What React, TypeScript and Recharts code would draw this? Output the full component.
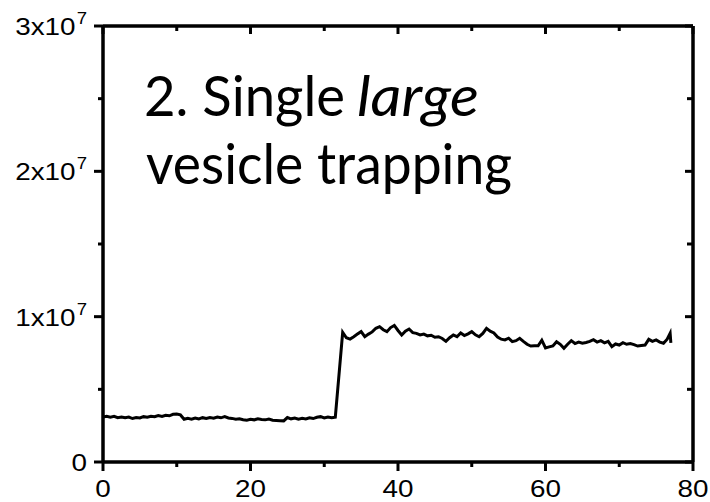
import React from "react";
import { LineChart, Line, XAxis, YAxis } from "recharts";

// time in seconds
const timeS: number[] = [
  0, 0.5, 1, 1.5, 2, 2.5, 3, 3.5, 4, 4.5,
  5, 5.5, 6, 6.5, 7, 7.5, 8, 8.5, 9, 9.5,
  10, 10.5, 11, 11.5, 12, 12.5, 13, 13.5, 14, 14.5,
  15, 15.5, 16, 16.5, 17, 17.5, 18, 18.5, 19, 19.5,
  20, 20.5, 21, 21.5, 22, 22.5, 23, 23.5, 24, 24.5,
  25, 25.5, 26, 26.5, 27, 27.5, 28, 28.5, 29, 29.5,
  30, 30.5, 31, 31.5,
  32.5,
  33, 33.5, 34, 34.5, 35, 35.5, 36, 36.5, 37, 37.5,
  38, 38.5, 39, 39.5, 40, 40.5, 41, 41.5, 42, 42.5,
  43, 43.5, 44, 44.5, 45, 45.5, 46, 46.5, 47, 47.5,
  48, 48.5, 49, 49.5, 50, 50.5, 51, 51.5, 52, 52.5,
  53, 53.5, 54, 54.5, 55, 55.5, 56, 56.5, 57, 57.5,
  58, 58.5, 59, 59.5, 60, 60.5, 61, 61.5, 62, 62.5,
  63, 63.5, 64, 64.5, 65, 65.5, 66, 66.5, 67, 67.5,
  68, 68.5, 69, 69.5, 70, 70.5, 71, 71.5, 72, 72.5,
  73, 73.5, 74, 74.5, 75, 75.5, 76, 76.5,
  76.9, 77,
];

// intensity in units of 10^6
const intensityE6: number[] = [
  3.10, 3.15, 3.08, 3.14, 3.05, 3.10, 3.04, 3.09, 2.99, 3.06,
  3.03, 3.12, 3.08, 3.15, 3.11, 3.19, 3.13, 3.21, 3.18, 3.28,
  3.30, 3.24, 2.94, 3.00, 2.95, 3.03, 2.97, 3.05, 2.99, 3.06,
  3.02, 3.10, 3.04, 3.12, 3.03, 3.00, 2.95, 2.98, 2.91, 2.88,
  2.94, 2.90, 2.97, 2.93, 2.90, 2.95, 2.88, 2.86, 2.84, 2.83,
  3.06, 2.97, 3.02, 2.94, 3.01, 2.96, 3.04, 2.99, 3.08, 3.12,
  3.03, 3.09, 3.05, 3.08,
  8.92,
  8.55, 8.46, 8.62, 8.80, 8.97, 8.62, 8.80, 8.95, 9.20, 9.31,
  9.10, 8.97, 9.25, 9.40, 9.05, 8.74, 9.00, 9.15, 8.90, 8.85,
  8.74, 8.80, 8.68, 8.72, 8.58, 8.62, 8.50, 8.30, 8.55, 8.74,
  8.62, 8.88, 8.70, 8.82, 8.97, 8.75, 8.62, 8.85, 9.20, 9.00,
  8.88, 8.60, 8.45, 8.40, 8.52, 8.28, 8.35, 8.51, 8.30, 8.10,
  7.98, 8.00, 8.00, 8.38, 7.85, 7.92, 7.98, 8.28, 8.10, 7.82,
  8.10, 8.35, 8.15, 8.25, 8.17, 8.22, 8.30, 8.42, 8.25, 8.35,
  8.20, 8.30, 7.94, 8.12, 8.05, 8.21, 8.10, 8.15, 8.08, 7.98,
  8.02, 8.05, 8.44, 8.30, 8.40, 8.25, 8.17, 8.45,
  8.86, 8.20,
];

const xTicks: number[] = [0, 10, 20, 30, 40, 50, 60, 70, 80];
const xMajor: number[] = [0, 20, 40, 60, 80];
const yTicks: number[] = [0, 5, 10, 15, 20, 25, 30];
const yMajorLabels: Record<number, [string, string]> = {
  0: ["0", ""],
  10: ["1x10", "7"],
  20: ["2x10", "7"],
  30: ["3x10", "7"],
};
const titleLine1 = "2. Single";
const titleItalic = "large";
const titleLine2 = "vesicle trapping";

const data = timeS.map((t, i) => ({ t, v: intensityE6[i] }));

const TICK_FONT = "'Liberation Sans', Arial, sans-serif";
const TITLE_FONT = "Lato, 'Open Sans', sans-serif";
const STROKE = "#000";
const SX = 1.16;
const TITLE_SY = 1.04;
const L1 = 116;
const L2 = 184;

const BottomTick = (props: any) => {
  const { x, y, payload } = props;
  const major = xMajor.includes(payload.value);
  return (
    <g>
      <line x1={x} y1={y} x2={x} y2={y + (major ? 9 : 5)} stroke={STROKE} strokeWidth={3} />
      {major && (
        <text
          transform={`translate(${x},${y + 35}) scale(${SX},1)`}
          x={0}
          y={0}
          textAnchor="middle"
          fontFamily={TICK_FONT}
          fontSize={24}
          fill="#000"
        >
          {payload.value}
        </text>
      )}
    </g>
  );
};

const TopTick = (props: any) => {
  const { x, y, payload } = props;
  const major = xMajor.includes(payload.value);
  return <line x1={x} y1={y} x2={x} y2={y + (major ? 8 : 5)} stroke={STROKE} strokeWidth={3} />;
};

const LeftTick = (props: any) => {
  const { x, y, payload } = props;
  const lab = yMajorLabels[payload.value];
  const major = !!lab;
  return (
    <g>
      <line x1={x} y1={y} x2={x - (major ? 9 : 5)} y2={y} stroke={STROKE} strokeWidth={3} />
      {major && (
        <text
          transform={`translate(${x - 16},${y + 9}) scale(${SX},1)`}
          x={0}
          y={0}
          textAnchor="end"
          fontFamily={TICK_FONT}
          fontSize={24}
          fill="#000"
        >
          {lab[0]}
          {lab[1] && (
            <tspan fontSize={16} dy={-11} dx={1}>
              {lab[1]}
            </tspan>
          )}
        </text>
      )}
    </g>
  );
};

const RightTick = (props: any) => {
  const { x, y, payload } = props;
  const major = !!yMajorLabels[payload.value];
  return <line x1={x} y1={y} x2={x - (major ? 8 : 6)} y2={y} stroke={STROKE} strokeWidth={3} />;
};

export default function App() {
  return (
    <div style={{ position: "absolute", left: 0, top: 0, width: 710, height: 502, background: "#fff" }}>
      <LineChart
        width={710}
        height={502}
        data={data}
        margin={{ top: 25, right: 16, bottom: 0, left: 13 }}
      >
        <XAxis
          xAxisId="bottom"
          dataKey="t"
          type="number"
          domain={[0, 80]}
          ticks={xTicks}
          orientation="bottom"
          height={40}
          tickSize={0}
          tickMargin={0}
          tickLine={false}
          axisLine={{ stroke: STROKE, strokeWidth: 3.5 }}
          tick={<BottomTick />}
          interval={0}
          allowDataOverflow
        />
        <XAxis
          xAxisId="top"
          dataKey="t"
          type="number"
          domain={[0, 80]}
          ticks={xTicks}
          orientation="top"
          height={1}
          tickSize={0}
          tickMargin={0}
          tickLine={false}
          axisLine={{ stroke: STROKE, strokeWidth: 3.5 }}
          tick={<TopTick />}
          interval={0}
          allowDataOverflow
        />
        <YAxis
          yAxisId="left"
          type="number"
          domain={[0, 30]}
          ticks={yTicks}
          orientation="left"
          width={90}
          tickSize={0}
          tickMargin={0}
          tickLine={false}
          axisLine={{ stroke: STROKE, strokeWidth: 3.5 }}
          tick={<LeftTick />}
          interval={0}
          allowDataOverflow
        />
        <YAxis
          yAxisId="right"
          type="number"
          domain={[0, 30]}
          ticks={yTicks}
          orientation="right"
          width={1}
          tickSize={0}
          tickMargin={0}
          tickLine={false}
          axisLine={{ stroke: STROKE, strokeWidth: 3.5 }}
          tick={<RightTick />}
          interval={0}
          allowDataOverflow
        />
        <Line
          xAxisId="bottom"
          yAxisId="left"
          dataKey="v"
          type="linear"
          stroke="#000"
          strokeWidth={3}
          dot={false}
          isAnimationActive={false}
        />
      </LineChart>
      <svg
        width={710}
        height={502}
        style={{ position: "absolute", left: 0, top: 0, pointerEvents: "none" }}
      >
        <g transform={`translate(0,${L1}) scale(1,${TITLE_SY}) translate(0,${-L1})`}>
          <text
            x={144}
            y={L1}
            fontFamily={TITLE_FONT}
            fontSize={54}
            fill="#000"
            textLength={201}
            lengthAdjust="spacingAndGlyphs"
          >
            {titleLine1}
          </text>
          <text
            x={357}
            y={L1}
            fontFamily={TITLE_FONT}
            fontStyle="italic"
            fontSize={54}
            fill="#000"
            textLength={122}
            lengthAdjust="spacingAndGlyphs"
          >
            {titleItalic}
          </text>
        </g>
        <g transform={`translate(0,${L2}) scale(1,${TITLE_SY}) translate(0,${-L2})`}>
          <text
            x={146}
            y={L2}
            fontFamily={TITLE_FONT}
            fontSize={54}
            fill="#000"
            textLength={366}
            lengthAdjust="spacingAndGlyphs"
          >
            {titleLine2}
          </text>
        </g>
      </svg>
    </div>
  );
}
